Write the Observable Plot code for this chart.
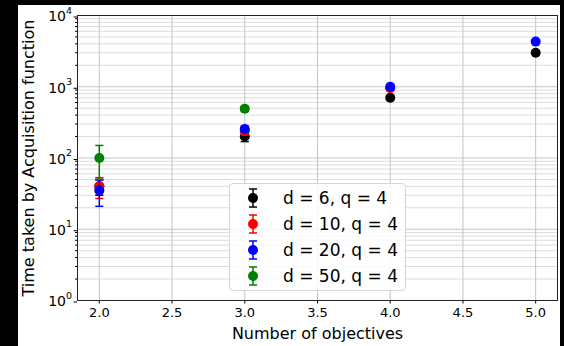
<!DOCTYPE html>
<html>
<head>
<meta charset="utf-8">
<script src="https://cdn.jsdelivr.net/npm/d3@7"></script>
<script src="https://cdn.jsdelivr.net/npm/@observablehq/plot@0.6"></script>
<style>
  html, body { margin: 0; padding: 0; background: #000; }
  #page { position: relative; width: 564px; height: 346px; background: #000; overflow: hidden; }
  #chart { position: absolute; left: 18px; top: 5px; width: 542px; height: 341px; background: #fff; }
  #chart svg { overflow: visible; }
  #legend { position: absolute; left: 229px; top: 183px; width: 177px; height: 108px;
    border: 1px solid #d6d6d6; border-radius: 4px; background: rgba(255,255,255,0.85);
    font-family: "DejaVu Sans", sans-serif; font-size: 17px; box-sizing: border-box; }
  .row { position: absolute; left: 0; height: 26px; display: flex; align-items: center; }
  .row svg { display: block; }
  .row span { position: absolute; left: 53px; white-space: nowrap; line-height: 26px; }
</style>
</head>
<body>
<div id="page"><div id="chart"></div><div id="legend"></div></div>
<script>
// ---- data ----
const labels = ["d = 6, q = 4", "d = 10, q = 4", "d = 20, q = 4", "d = 50, q = 4"];
const colors = ["#000000", "#ff0000", "#0000ff", "#008000"];

const objD6 = [2, 3, 4, 5];
const timeD6 = [40, 200, 700, 3000];
const errD6 = [10, 30, 30, 100];

const objD10 = [2, 3, 4];
const timeD10 = [40, 240, 950];
const errD10 = [13, 30, 50];

const objD20 = [2, 3, 4, 5];
const timeD20 = [35, 255, 1000, 4300];
const errD20 = [14, 25, 50, 150];

const objD50 = [2, 3];
const timeD50 = [100, 490];
const errD50 = [50, 40];

const xTicks = [2.0, 2.5, 3.0, 3.5, 4.0, 4.5, 5.0];
const yMajor = [1, 10, 100, 1000, 10000];
const yMinor = yMajor.slice(0, -1).flatMap(d => [2,3,4,5,6,7,8,9].map(k => k * d));

const seriesX = [objD6, objD10, objD20, objD50];
const seriesY = [timeD6, timeD10, timeD20, timeD50];
const seriesE = [errD6, errD10, errD20, errD50];

const series = labels.map((label, s) => ({
  label, color: colors[s],
  rows: seriesX[s].map((x, i) => ({x, y: seriesY[s][i], lo: seriesY[s][i] - seriesE[s][i], hi: seriesY[s][i] + seriesE[s][i]}))
}));

const expOf = d => String(Math.round(Math.log10(d)));
const capHalf = 0.028;

const seriesMarks = series.flatMap(s => [
  Plot.ruleX(s.rows, {x: "x", y1: "lo", y2: "hi", stroke: s.color, strokeWidth: 1.5}),
  Plot.link(s.rows, {x1: d => d.x - capHalf, x2: d => d.x + capHalf, y1: "lo", y2: "lo", stroke: s.color, strokeWidth: 1.5}),
  Plot.link(s.rows, {x1: d => d.x - capHalf, x2: d => d.x + capHalf, y1: "hi", y2: "hi", stroke: s.color, strokeWidth: 1.5}),
  Plot.dot(s.rows, {x: "x", y: "y", r: 5, fill: s.color, stroke: "none"})
]);

const chart = Plot.plot({
  width: 542, height: 341,
  marginLeft: 59, marginRight: 3, marginTop: 10, marginBottom: 46,
  style: {fontFamily: "DejaVu Sans, sans-serif", fontSize: "13px", background: "white", color: "black", overflow: "visible"},
  x: {domain: [1.85, 5.15]},
  y: {type: "log", domain: [1, 10000]},
  marks: [
    Plot.gridY(yMinor, {stroke: "#dcdcdc", strokeOpacity: 1}),
    Plot.gridY(yMajor, {stroke: "#c4c4c4", strokeOpacity: 1}),
    Plot.gridX(xTicks, {stroke: "#c4c4c4", strokeOpacity: 1}),
    Plot.axisX(xTicks, {tickFormat: d => d.toFixed(1), tickSize: 3.5, tickPadding: 4, fontSize: 13, label: null}),
    Plot.axisX([], {label: "Number of objectives", labelAnchor: "center", labelArrow: "none", labelOffset: 38, fontSize: 16}),
    Plot.axisY(yMajor, {tickFormat: () => "10", tickSize: 3.5, tickPadding: 8, dy: 1.5, fontSize: 14, label: null}),
    Plot.axisY(yMajor, {tickFormat: expOf, tickSize: 0, tickPadding: 5.5, dy: -5, fontSize: 9.5, label: null}),
    Plot.axisY(yMinor, {tickFormat: () => "", tickSize: 2, label: null}),
    Plot.axisY([], {label: "Time taken by Acquisition function", labelAnchor: "center", labelArrow: "none", labelOffset: 55, fontSize: 16}),
    ...seriesMarks,
    Plot.frame({stroke: "#222"})
  ]
});
document.getElementById("chart").appendChild(chart);

// legend
const legend = document.getElementById("legend");
series.forEach((s, i) => {
  const row = document.createElement("div");
  row.className = "row";
  row.style.top = (1 + i * 26) + "px";
  row.style.width = "175px";
  row.innerHTML = `<svg width="50" height="26" style="position:absolute;left:0;top:0">
    <line x1="23" x2="23" y1="4" y2="22" stroke="${s.color}" stroke-width="1.5"/>
    <line x1="19" x2="27" y1="4" y2="4" stroke="${s.color}" stroke-width="1.5"/>
    <line x1="19" x2="27" y1="22" y2="22" stroke="${s.color}" stroke-width="1.5"/>
    <circle cx="23" cy="13" r="5" fill="${s.color}"/></svg><span>${s.label}</span>`;
  legend.appendChild(row);
});
</script>
</body>
</html>
